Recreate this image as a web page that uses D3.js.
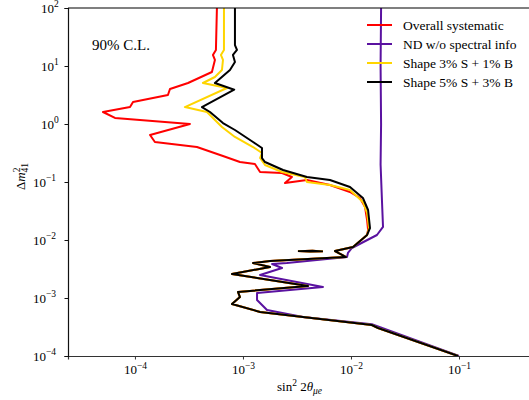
<!DOCTYPE html>
<html>
<head>
<meta charset="utf-8">
<script src="https://cdn.jsdelivr.net/npm/d3@7"></script>
<style>
  html, body { margin: 0; padding: 0; background: #fff; }
  svg { display: block; }
</style>
</head>
<body>
<svg id="chart" width="529" height="400" font-family="'Liberation Serif', 'DejaVu Serif', serif"></svg>
<script>
// 90% C.L. exclusion contours: [sin^2 2theta_mue, Delta m^2_41]
const overallSyst = [
  [5.74e-4, 100], [5.62e-4, 18.9], [5.27e-4, 15.5], [5.5e-4, 12.7], [5.16e-4, 7.88],
  [3.1e-4, 5.09], [2.11e-4, 4.01], [2.02e-4, 3.16], [9.6e-5, 2.40], [9.0e-5, 1.96],
  [5.06e-5, 1.61], [6.53e-5, 1.27], [3.23e-4, 1.0], [1.38e-4, 0.646], [1.53e-4, 0.489],
  [3.75e-4, 0.401], [6.53e-4, 0.281], [9.38e-4, 0.221], [1.29e-3, 0.204], [1.44e-3, 0.149],
  [2.30e-3, 0.143], [2.84e-3, 0.122], [2.45e-3, 0.0961], [3.91e-3, 0.108], [6.39e-3, 0.0888],
  [9.79e-3, 0.0673], [1.21e-2, 0.053], [1.35e-2, 0.037], [1.41e-2, 0.0221], [1.44e-2, 0.0149]
];
const ndNoSpectral = [
  [1.90e-2, 100], [1.88e-2, 10], [1.90e-2, 1.0], [1.88e-2, 0.2], [1.94e-2, 0.0434],
  [1.98e-2, 0.0168], [1.74e-2, 0.0122], [1.02e-2, 7.28e-3], [9.38e-3, 5.97e-3], [9.19e-3, 5.09e-3],
  [2.55e-3, 4.01e-3], [1.86e-3, 3.86e-3], [2.30e-3, 3.29e-3], [1.44e-3, 2.49e-3], [5.5e-3, 1.55e-3],
  [1.35e-3, 1.22e-3], [1.35e-3, 9.25e-4], [1.67e-3, 6.21e-4], [3.59e-3, 4.7e-4], [1.56e-2, 3.52e-4],
  [1.86e-2, 3.14e-4], [1.0e-1, 1.0e-4]
];
const shape3S1B = [
  [6.67e-4, 100], [6.67e-4, 18.9], [6.25e-4, 15.5], [6.53e-4, 12.7], [6.39e-4, 8.53],
  [5.5e-4, 6.46], [4.26e-4, 5.09], [7.11e-4, 4.18], [2.9e-4, 1.96], [4.64e-4, 1.61],
  [6.39e-4, 0.888], [8.43e-4, 0.597], [1.24e-3, 0.401], [1.5e-3, 0.316], [1.44e-3, 0.259],
  [1.6e-3, 0.196], [2.30e-3, 0.149], [3.75e-3, 0.122], [3.91e-3, 0.1], [6.39e-3, 0.0888],
  [9.79e-3, 0.073], [1.29e-2, 0.0452], [1.41e-2, 0.0292], [1.47e-2, 0.0161]
];
const shape5S3B = [
  [8.43e-4, 100], [8.43e-4, 23], [8.8e-4, 18.9], [8.08e-4, 15.5], [8.43e-4, 11.7],
  [7.58e-4, 8.53], [5.5e-4, 5.09], [8.3e-4, 3.9], [4.17e-4, 1.96], [4.95e-4, 1.61],
  [6.53e-4, 1.04], [8.43e-4, 0.788], [1.24e-3, 0.489], [1.5e-3, 0.386], [1.5e-3, 0.259],
  [1.6e-3, 0.221], [2.35e-3, 0.161], [3.91e-3, 0.122], [6.39e-3, 0.108], [9.79e-3, 0.082],
  [1.29e-2, 0.053], [1.44e-2, 0.0329], [1.5e-2, 0.0161]
];
// low-mass branch shared by the three systematic scenarios
const sharedLowMass = [
  [1.41e-2, 0.0122], [1.045e-2, 7.57e-3], [7.11e-3, 6.46e-3], [9.0e-3, 5.09e-3],
  [1.78e-3, 4.35e-3], [1.24e-3, 4.01e-3], [1.78e-3, 3.42e-3], [7.91e-4, 2.59e-3],
  [4.0e-3, 1.61e-3], [8.99e-4, 1.27e-3], [9.38e-4, 1.04e-3], [7.91e-4, 7.88e-4],
  [1.44e-3, 5.74e-4], [3.59e-3, 4.7e-4], [1.56e-2, 3.42e-4], [1.78e-2, 3.04e-4],
  [9.8e-2, 1.0e-4]
];
// small closed island near 6e-3 eV^2
const island = [
  [3.23e-3, 6.42e-3], [4.2e-3, 6.3e-3], [5.5e-3, 6.36e-3], [4.4e-3, 6.52e-3], [3.23e-3, 6.42e-3]
];

const seriesNames = ["Overall systematic", "ND w/o spectral info", "Shape 3% S + 1% B", "Shape 5% S + 3% B"];
const seriesColors = ["#ff0000", "#5a12a0", "#ffd500", "#000000"];
const xMajorExps = [-4, -3, -2, -1, 0];
const xLabelExps = [-4, -3, -2, -1];
const yMajorExps = [-4, -3, -2, -1, 0, 1, 2];

const svg = d3.select("#chart");
const plotLeft = 68, plotTop = 8, plotBottom = 356, plotRight = 567;
const x = d3.scaleLog().domain([2.4e-5, 1]).range([plotLeft, plotRight]);
const y = d3.scaleLog().domain([1e-4, 1e2]).range([plotBottom, plotTop]);

svg.append("clipPath").attr("id", "plotclip")
  .append("rect").attr("x", plotLeft).attr("y", plotTop)
  .attr("width", plotRight - plotLeft).attr("height", plotBottom - plotTop);

const line = d3.line().x(d => x(d[0])).y(d => y(d[1]));

const curves = [
  overallSyst.concat(sharedLowMass),
  ndNoSpectral,
  shape3S1B.concat(sharedLowMass),
  shape5S3B.concat(sharedLowMass)
];
const g = svg.append("g").attr("clip-path", "url(#plotclip)");
curves.forEach((c, i) => {
  g.append("path").attr("d", line(c)).attr("fill", "none")
    .attr("stroke", seriesColors[i]).attr("stroke-width", 2).attr("stroke-linejoin", "round");
  if (i !== 1) {
    g.append("path").attr("d", line(island)).attr("fill", "none")
      .attr("stroke", seriesColors[i]).attr("stroke-width", 1.8);
  }
});

// axes
function supLabel(sel, exp) {
  sel.append("tspan").text("10");
  sel.append("tspan").attr("dy", -5.5).attr("font-size", 9.5)
    .text(exp < 0 ? "\u2212" + (-exp) : String(exp));
}
const minorVals = (lo, hi) => {
  const out = [];
  for (let e = lo; e < hi; e++) for (let k = 2; k <= 9; k++) out.push(k * Math.pow(10, e));
  return out;
};

const xAxisG = svg.append("g").attr("transform", `translate(0,${plotBottom})`);
xAxisG.call(d3.axisBottom(x).tickValues(minorVals(-5, 0).filter(v => v >= 2.4e-5))
  .tickSize(2).tickFormat(""));
xAxisG.call(d3.axisBottom(x).tickValues(xMajorExps.map(e => Math.pow(10, e)))
  .tickSize(3.5).tickFormat(""));
xAxisG.selectAll(".domain").attr("stroke", "#333").attr("stroke-width", 1.2);
xAxisG.selectAll(".tick line").attr("stroke", "#333");
xLabelExps.forEach(e => {
  const t = svg.append("text").attr("x", x(Math.pow(10, e)) - 11).attr("y", 374)
    .attr("font-size", 13);
  supLabel(t, e);
});

const yAxisG = svg.append("g").attr("transform", `translate(${plotLeft},0)`);
yAxisG.call(d3.axisLeft(y).tickValues(minorVals(-4, 2)).tickSize(2).tickFormat(""));
yAxisG.call(d3.axisLeft(y).tickValues(yMajorExps.map(e => Math.pow(10, e))).tickSize(3.5).tickFormat(""));
yAxisG.selectAll(".domain").attr("stroke", "#111").attr("stroke-width", 1.2);
yAxisG.selectAll(".tick line").attr("stroke", "#111");
yMajorExps.forEach(e => {
  const t = svg.append("text").attr("x", e < 0 ? 33 : 41).attr("y", y(Math.pow(10, e)) + 4.5)
    .attr("font-size", 13);
  supLabel(t, e);
});

// top spine
svg.append("line").attr("x1", plotLeft).attr("x2", 529).attr("y1", plotTop).attr("y2", plotTop)
  .attr("stroke", "#000").attr("stroke-width", 1.2);

// axis titles
const xt = svg.append("text").attr("x", 277).attr("y", 391).attr("font-size", 13);
xt.append("tspan").text("sin");
xt.append("tspan").attr("dy", -5).attr("font-size", 9.5).text("2");
xt.append("tspan").attr("dy", 5).text(" 2");
xt.append("tspan").attr("font-style", "italic").text("\u03b8");
xt.append("tspan").attr("dy", 3).attr("font-size", 9.5).attr("font-style", "italic").text("\u03bce");

const yt = svg.append("text").attr("transform", "translate(25,190) rotate(-90)").attr("font-size", 13);
yt.append("tspan").text("\u0394");
yt.append("tspan").attr("font-style", "italic").text("m");
yt.append("tspan").attr("dy", -5).attr("font-size", 9.5).text("2");
yt.append("tspan").attr("dx", -5).attr("dy", 8).attr("font-size", 9.5).text("41");

// annotation
svg.append("text").attr("x", 92).attr("y", 50).attr("font-size", 15).text("90% C.L.");

// legend
const leg = svg.append("g");
seriesNames.forEach((name, i) => {
  const cy = 25 + i * 19;
  leg.append("line").attr("x1", 367).attr("x2", 392).attr("y1", cy).attr("y2", cy)
    .attr("stroke", seriesColors[i]).attr("stroke-width", 2);
  leg.append("text").attr("x", 403).attr("y", cy + 4.5).attr("font-size", 13.5).text(name);
});
</script>
</body>
</html>
